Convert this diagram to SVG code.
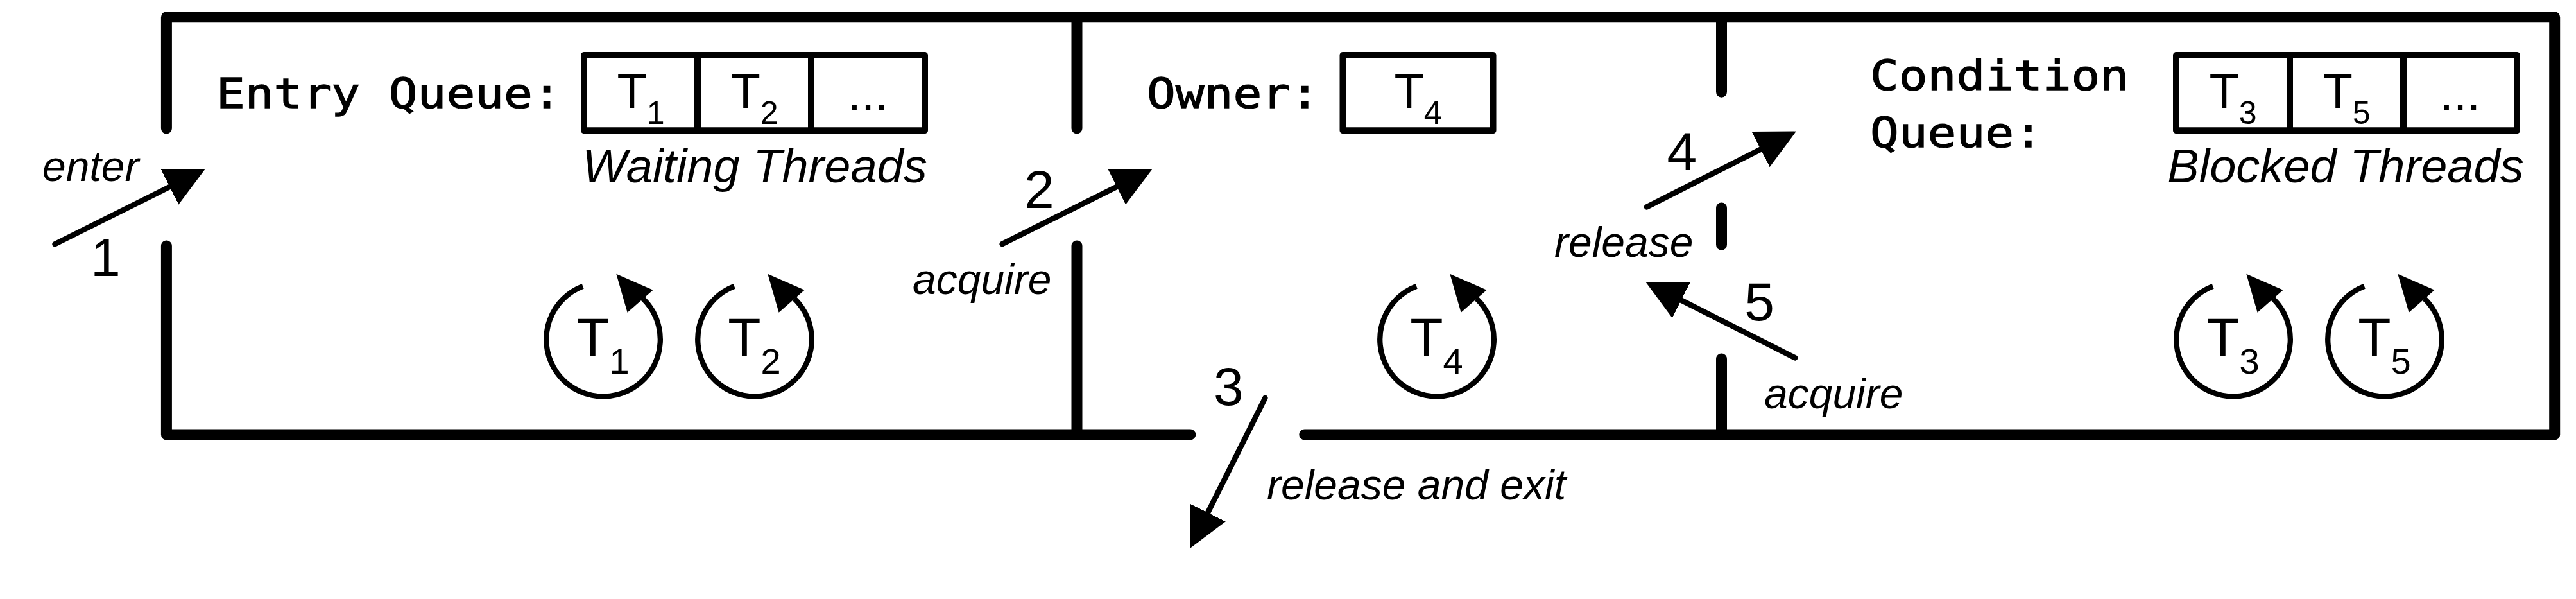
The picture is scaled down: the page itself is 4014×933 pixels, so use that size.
<svg xmlns="http://www.w3.org/2000/svg" width="4014" height="933" viewBox="0 0 4014 933">
<style>
.wall{fill:none;stroke:#000;stroke-width:17;stroke-linecap:round;stroke-linejoin:round}
.box{fill:none;stroke:#000;stroke-width:10;stroke-linejoin:round}
.dv{stroke:#000;stroke-width:10}
.arrow{fill:none;stroke:#000;stroke-width:8.5;stroke-linecap:round;marker-end:url(#ah)}
.loop{fill:none;stroke:#000;stroke-width:8.3}
.mono{font-family:"DejaVu Sans Mono",monospace;font-size:64.5px;fill:#000;stroke:#000;stroke-width:1.3px}
.sans{font-family:"Liberation Sans",Arial,sans-serif;fill:#000}
.lbl{font-style:italic;font-size:66px}
.cap{font-style:italic;font-size:74px}
.num{font-size:84px}
.bt{font-size:76px}
.bs{font-size:50px}
.ct{font-size:84px}
.cs{font-size:56px}
</style>
<defs>
<marker id="ah" markerUnits="userSpaceOnUse" viewBox="0 0 62 62" markerWidth="62" markerHeight="62" refX="0" refY="31" orient="auto">
<path d="M0,0 L62,31 L0,62 Z" fill="#000"/>
</marker>
<g id="loop">
<path class="loop" d="M-31.8,-82.9 A88.8,88.8 0 1 0 61.8,-63.8"/>
<polygon points="20.3,-102 77.6,-77 37.6,-42" fill="#000"/>
</g>
</defs>
<rect width="4014" height="933" fill="#fff"/>
<g id="walls">
<path class="wall" d="M259.4,200 V26.8 H3980.7 V677 H2032.8 M1854.8,677 H259.4 V383"/>
<path class="wall" d="M1678,26.8 V200 M1678,383 V677"/>
<path class="wall" d="M2682.5,26.8 V143.2 M2682.5,323.9 V381.2 M2682.5,558.9 V677"/>
</g>
<g id="entry-set">
<text class="mono" transform="translate(337,168.4) scale(1.154,1)">Entry Queue:</text>
<rect class="box" x="910" y="86" width="531" height="117.3"/>
<line class="dv" x1="1087" y1="86" x2="1087" y2="203.3"/>
<line class="dv" x1="1264" y1="86" x2="1264" y2="203.3"/>
<text class="sans bt" x="998.5" y="168.3" text-anchor="middle">T<tspan class="bs" dy="24.4">1</tspan></text>
<text class="sans bt" x="1175.5" y="168.3" text-anchor="middle">T<tspan class="bs" dy="24.4">2</tspan></text>
<text class="sans bt" x="1352.5" y="172" text-anchor="middle">...</text>
<text class="sans cap" x="1176" y="284.4" text-anchor="middle">Waiting Threads</text>
<g id="loop-T1">
<use href="#loop" transform="translate(940,528.7)"/>
<text class="sans ct" x="939.5" y="554" text-anchor="middle">T<tspan class="cs" dy="28.3">1</tspan></text>
</g>
<g id="loop-T2">
<use href="#loop" transform="translate(1176,528.7)"/>
<text class="sans ct" x="1175.5" y="554" text-anchor="middle">T<tspan class="cs" dy="28.3">2</tspan></text>
</g>
</g>
<g id="owner">
<text class="mono" transform="translate(1787,168.4) scale(1.154,1)">Owner:</text>
<rect class="box" x="2092.5" y="86" width="234" height="117.3"/>
<text class="sans bt" x="2209.5" y="168.3" text-anchor="middle">T<tspan class="bs" dy="24.4">4</tspan></text>
<g id="loop-T4">
<use href="#loop" transform="translate(2239,528.7)"/>
<text class="sans ct" x="2238.5" y="554" text-anchor="middle">T<tspan class="cs" dy="28.3">4</tspan></text>
</g>
</g>
<g id="wait-set">
<text class="mono" transform="translate(2914,139.8) scale(1.154,1)">Condition</text>
<text class="mono" transform="translate(2914,229.2) scale(1.154,1)">Queue:</text>
<rect class="box" x="3391" y="86" width="531" height="117.3"/>
<line class="dv" x1="3568" y1="86" x2="3568" y2="203.3"/>
<line class="dv" x1="3745" y1="86" x2="3745" y2="203.3"/>
<text class="sans bt" x="3479.5" y="168.3" text-anchor="middle">T<tspan class="bs" dy="24.4">3</tspan></text>
<text class="sans bt" x="3656.5" y="168.3" text-anchor="middle">T<tspan class="bs" dy="24.4">5</tspan></text>
<text class="sans bt" x="3833.5" y="172" text-anchor="middle">...</text>
<text class="sans cap" x="3655" y="284.4" text-anchor="middle">Blocked Threads</text>
<g id="loop-T3">
<use href="#loop" transform="translate(3480,528.7)"/>
<text class="sans ct" x="3479.5" y="554" text-anchor="middle">T<tspan class="cs" dy="28.3">3</tspan></text>
</g>
<g id="loop-T5">
<use href="#loop" transform="translate(3716,528.7)"/>
<text class="sans ct" x="3715.5" y="554" text-anchor="middle">T<tspan class="cs" dy="28.3">5</tspan></text>
</g>
</g>
<g id="connectors">
<line class="arrow" x1="85.5" y1="380.3" x2="264.3" y2="291"/>
<line class="arrow" x1="1561.6" y1="380.1" x2="1740.2" y2="290.9"/>
<line class="arrow" x1="1971.4" y1="619.8" x2="1882.1" y2="798.5"/>
<line class="arrow" x1="2566" y1="322.4" x2="2743.5" y2="232.6"/>
<line class="arrow" x1="2797.2" y1="557.4" x2="2619.8" y2="467.6"/>
<text class="sans lbl" x="66" y="282">enter</text>
<text class="sans num" x="141" y="430">1</text>
<text class="sans num" x="1596" y="324.3">2</text>
<text class="sans lbl" x="1422" y="458.3">acquire</text>
<text class="sans num" x="1891" y="630.7">3</text>
<text class="sans lbl" x="1974" y="777.7">release and exit</text>
<text class="sans num" x="2597.6" y="264.8">4</text>
<text class="sans lbl" x="2422" y="400">release</text>
<text class="sans num" x="2718.2" y="498.6">5</text>
<text class="sans lbl" x="2749" y="635.7">acquire</text>
</g>
</svg>
